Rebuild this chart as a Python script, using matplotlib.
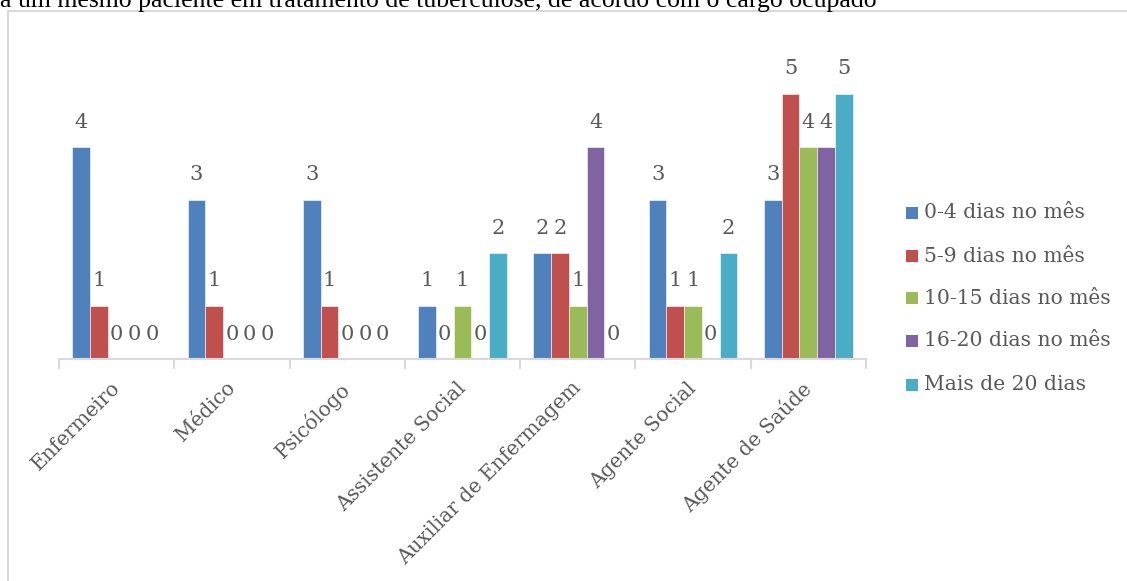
import matplotlib
matplotlib.use("Agg")
import matplotlib.pyplot as plt
from matplotlib.patches import Rectangle
from matplotlib.transforms import ScaledTranslation
import numpy as np

# Categories (cargo ocupado) and series (dias no mês)
categories = ["Enfermeiro", "Médico", "Psicólogo", "Assistente Social",
              "Auxiliar de Enfermagem", "Agente Social", "Agente de Saúde"]
series_names = ["0-4 dias no mês", "5-9 dias no mês", "10-15 dias no mês",
                "16-20 dias no mês", "Mais de 20 dias"]
dias_0_4 = [4, 3, 3, 1, 2, 3, 3]
dias_5_9 = [1, 1, 1, 0, 2, 1, 5]
dias_10_15 = [0, 0, 0, 1, 1, 1, 4]
dias_16_20 = [0, 0, 0, 0, 4, 0, 4]
mais_20 = [0, 0, 0, 2, 0, 2, 5]
series_values = [dias_0_4, dias_5_9, dias_10_15, dias_16_20, mais_20]
colors = ["#4F81BD", "#C0504D", "#9BBB59", "#8064A2", "#4BACC6"]

title = "a um mesmo paciente em tratamento de tuberculose, de acordo com o cargo ocupado"

W, H = 1127, 581
fig = plt.figure(figsize=(W / 100, H / 100), dpi=100)
fig.patch.set_facecolor("white")

def fx(px):
    return px / W

def fy(py):
    return 1 - py / H

label_font = "DejaVu Serif"
text_color = "#595959"
grid_color = "#D9D9D9"

# Outer chart frame (open at right and bottom edges of the page)
fig.patches.append(Rectangle((fx(8), fy(H + 10)), fx(W + 20), fy(11) - fy(H + 10),
                             transform=fig.transFigure, fill=False,
                             edgecolor=grid_color, linewidth=1.5))

# Caption line above the chart
fig.text(0.0, fy(7), title, fontsize=18.5, family="Liberation Serif",
         color="black", ha="left", va="baseline")

# Plot area
x0, x1 = 59, 866
base, top = 359, 41
ax = fig.add_axes([fx(x0), fy(base), fx(x1 - x0), fy(top) - fy(base)])
ax.set_xlim(0, len(categories))
ax.set_ylim(0, 6)

n = len(series_values)
gap = 1.5
bar_w = 1.0 / (n + gap)
x = np.arange(len(categories))
for i, (vals, c) in enumerate(zip(series_values, colors)):
    pos = x + gap * bar_w / 2 + (i + 0.5) * bar_w
    ax.bar(pos, vals, width=bar_w, color=c, edgecolor="white", linewidth=0.4)
    for xp, v in zip(pos, vals):
        ax.annotate(str(v), (xp, v), xytext=(0, 18), textcoords="offset points",
                    ha="center", va="center", fontsize=15, family=label_font,
                    color=text_color)

for side in ["left", "right", "top"]:
    ax.spines[side].set_visible(False)
ax.spines["bottom"].set_color(grid_color)
ax.spines["bottom"].set_linewidth(1.5)
ax.set_yticks([])

# Category boundaries as tick marks, labels at the centres
ax.set_xticks(np.arange(len(categories) + 1), minor=True)
ax.tick_params(axis="x", which="minor", length=7, width=1.5, color=grid_color)
ax.set_xticks(x + 0.5)
ax.set_xticklabels(categories, rotation=45, ha="right", va="top",
                   fontsize=14.5, family=label_font, color=text_color)
ax.tick_params(axis="x", which="major", length=0, pad=14)
shift = ScaledTranslation(7 / 100, 0, fig.dpi_scale_trans)
for lbl in ax.get_xticklabels():
    lbl.set_transform(lbl.get_transform() + shift)

# Legend
leg_x = 906
leg_y = [213, 256, 298, 341, 385]
for name, c, yy in zip(series_names, colors, leg_y):
    fig.patches.append(Rectangle((fx(leg_x), fy(yy + 6)), fx(12), fy(yy - 6) - fy(yy + 6),
                                 transform=fig.transFigure, facecolor=c,
                                 edgecolor="none"))
    fig.text(fx(leg_x + 18), fy(yy), name, fontsize=14.6, family=label_font,
             color=text_color, ha="left", va="center")

fig.savefig("out.png", dpi=100)
